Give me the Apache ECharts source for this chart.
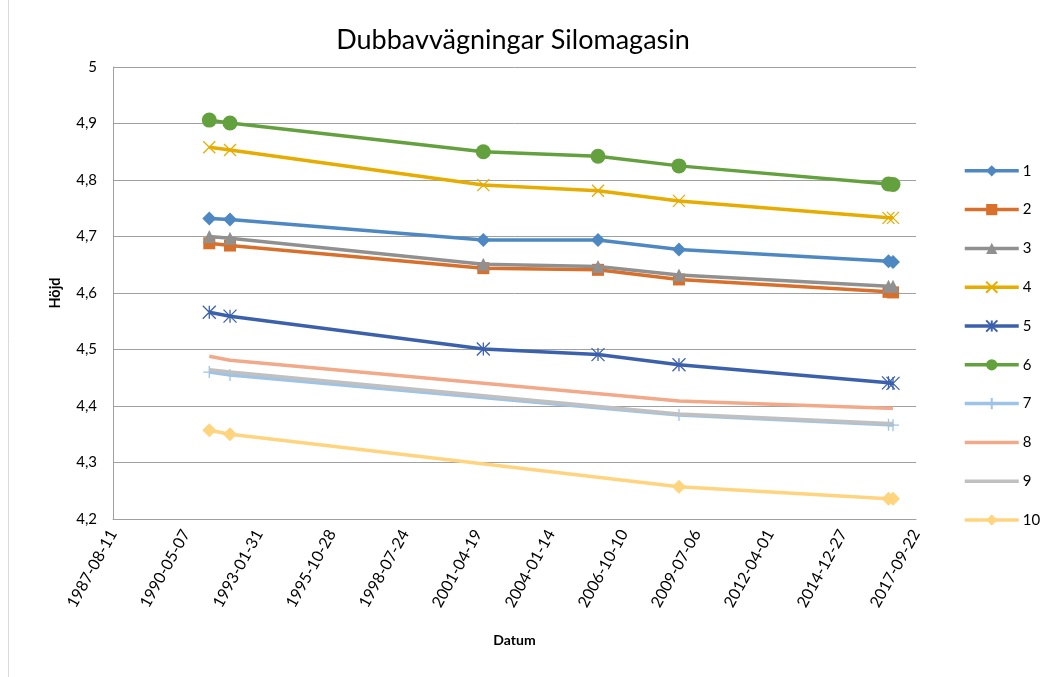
<!DOCTYPE html>
<html>
<head>
<meta charset="utf-8">
<script src="https://cdn.jsdelivr.net/npm/echarts@6/dist/echarts.min.js"></script>
<style>
html,body{margin:0;padding:0;background:#fff;}
#chart{width:1061px;height:677px;}
</style>
</head>
<body>
<div id="chart"></div>
<script>
// Measurement dates
var dates = ['1991-03-22','1991-12-31','2001-07-01','2005-10-19','2008-11-01','2016-09-10','2016-11-11'];
// Series values (Höjd), null = not measured
var s1  = [4.732, 4.730, 4.694, 4.694, 4.677, 4.656, 4.655];
var s2  = [4.688, 4.684, 4.644, 4.641, 4.624, 4.602, 4.601];
var s3  = [4.700, 4.697, 4.651, 4.647, 4.632, 4.612, 4.612];
var s4  = [4.858, 4.853, 4.791, 4.781, 4.763, 4.733, 4.733];
var s5  = [4.566, 4.559, 4.501, 4.491, 4.473, 4.441, 4.440];
var s6  = [4.906, 4.901, 4.850, 4.842, 4.825, 4.793, 4.792];
var s7  = [4.460, 4.455, null, null, 4.384, 4.367, 4.366];
var s8  = [4.488, 4.481, null, null, 4.409, 4.396, 4.396];
var s9  = [4.464, 4.460, null, null, 4.386, 4.369, 4.369];
var s10 = [4.357, 4.350, null, null, 4.257, 4.236, 4.236];
var seriesNames = ['1','2','3','4','5','6','7','8','9','10'];
// X tick labels (every 1000 days from serial 32000)
var xTickLabels = ['1987-08-11','1990-05-07','1993-01-31','1995-10-28','1998-07-24','2001-04-19','2004-01-14','2006-10-10','2009-07-06','2012-04-01','2014-12-27','2017-09-22'];

function serial(s){
  var p = s.split('-');
  return (Date.UTC(+p[0], +p[1]-1, +p[2]) - Date.UTC(1899,11,30)) / 86400000;
}
var X0 = serial(xTickLabels[0]);

var allVals = [s1,s2,s3,s4,s5,s6,s7,s8,s9,s10];
var colors = ['#4D88C2','#D8702C','#909090','#E6AC00','#3C61AC','#63A03E','#9DC3E6','#F2A98A','#C0C0C0','#FFD47F'];
var symbols = ['diamond','rect','triangle','path://M0,0L10,10M10,0L0,10','path://M0,0L10,10M10,0L0,10M5,0L5,10','circle','path://M5,0L5,10M0,5L10,5','none','none','diamond'];
var sizes = [14,12,13,12,13,15,12,0,0,14];
var stroked = [false,false,false,true,true,false,true,false,false,false];

var series = allVals.map(function(vals, k){
  var data = [];
  dates.forEach(function(d,i){ if (vals[i] !== null) data.push([serial(d), vals[i]]); });
  var it = stroked[k] ? {color: colors[k], borderColor: colors[k], borderWidth: 1.3} : {color: colors[k]};
  return {
    name: seriesNames[k],
    type: 'line',
    data: data,
    symbol: symbols[k],
    symbolSize: sizes[k],
    showSymbol: symbols[k] !== 'none',
    symbolKeepAspect: true,
    lineStyle: {color: colors[k], width: 3.5},
    itemStyle: it,
    emphasis: {disabled: true},
    z: 2 + k
  };
});

var legendData = seriesNames.map(function(n, k){
  if (symbols[k] === 'none') return {name: n, icon: 'path://M0,0L54,0L54,3.5L0,3.5Z'};
  return {name: n};
});

var chart = echarts.init(document.getElementById('chart'));
chart.setOption({
  animation: false,
  backgroundColor: '#fff',
  title: {
    text: 'Dubbavvägningar Silomagasin',
    left: 508, top: 22, textAlign: 'center',
    textStyle: {fontFamily: 'Lato', fontSize: 27, fontWeight: 'normal', color: '#000'}
  },
  legend: {
    orient: 'vertical',
    left: 963, top: 163.3, padding: 0,
    itemWidth: 54, itemHeight: 14, itemGap: 23.8,
    symbolKeepAspect: true,
    lineStyle: {width: 3.5},
    textStyle: {fontFamily: 'Lato', fontSize: 15, color: '#000', padding: [0,0,0,-1]},
    data: legendData
  },
  grid: {left: 113, right: 145, top: 67, bottom: 158, containLabel: false},
  xAxis: {
    type: 'value',
    min: X0, max: X0 + 11000, interval: 1000,
    name: 'Datum', nameLocation: 'middle', nameGap: 114,
    nameTextStyle: {fontFamily: 'Lato', fontSize: 14, fontWeight: 'bold', color: '#000'},
    axisLine: {show: true, lineStyle: {color: '#A0A0A0', width: 1}},
    axisTick: {show: false},
    splitLine: {show: false},
    axisLabel: {
      rotate: 61, margin: 12, fontFamily: 'Lato', fontSize: 16, color: '#000',
      formatter: function(v){ return xTickLabels[Math.round((v - X0)/1000)] || ''; }
    }
  },
  yAxis: {
    type: 'value',
    min: 4.2, max: 5, interval: 0.1,
    name: 'Höjd', nameLocation: 'middle', nameGap: 50,
    nameTextStyle: {fontFamily: 'Lato', fontSize: 14.5, fontWeight: 'bold', color: '#000'},
    axisLine: {show: true, lineStyle: {color: '#A0A0A0', width: 1}},
    axisTick: {show: false},
    splitLine: {show: true, lineStyle: {color: '#A0A0A0', width: 1}},
    axisLabel: {
      margin: 16, fontFamily: 'Lato', fontSize: 15, color: '#000',
      formatter: function(v){ return String(Math.round(v*10)/10).replace('.', ','); }
    }
  },
  graphic: [{
    type: 'line', silent: true,
    shape: {x1: 8.5, y1: 0, x2: 8.5, y2: 677},
    style: {stroke: '#D9D9D9', lineWidth: 1}
  }],
  series: series
});
</script>
</body>
</html>
